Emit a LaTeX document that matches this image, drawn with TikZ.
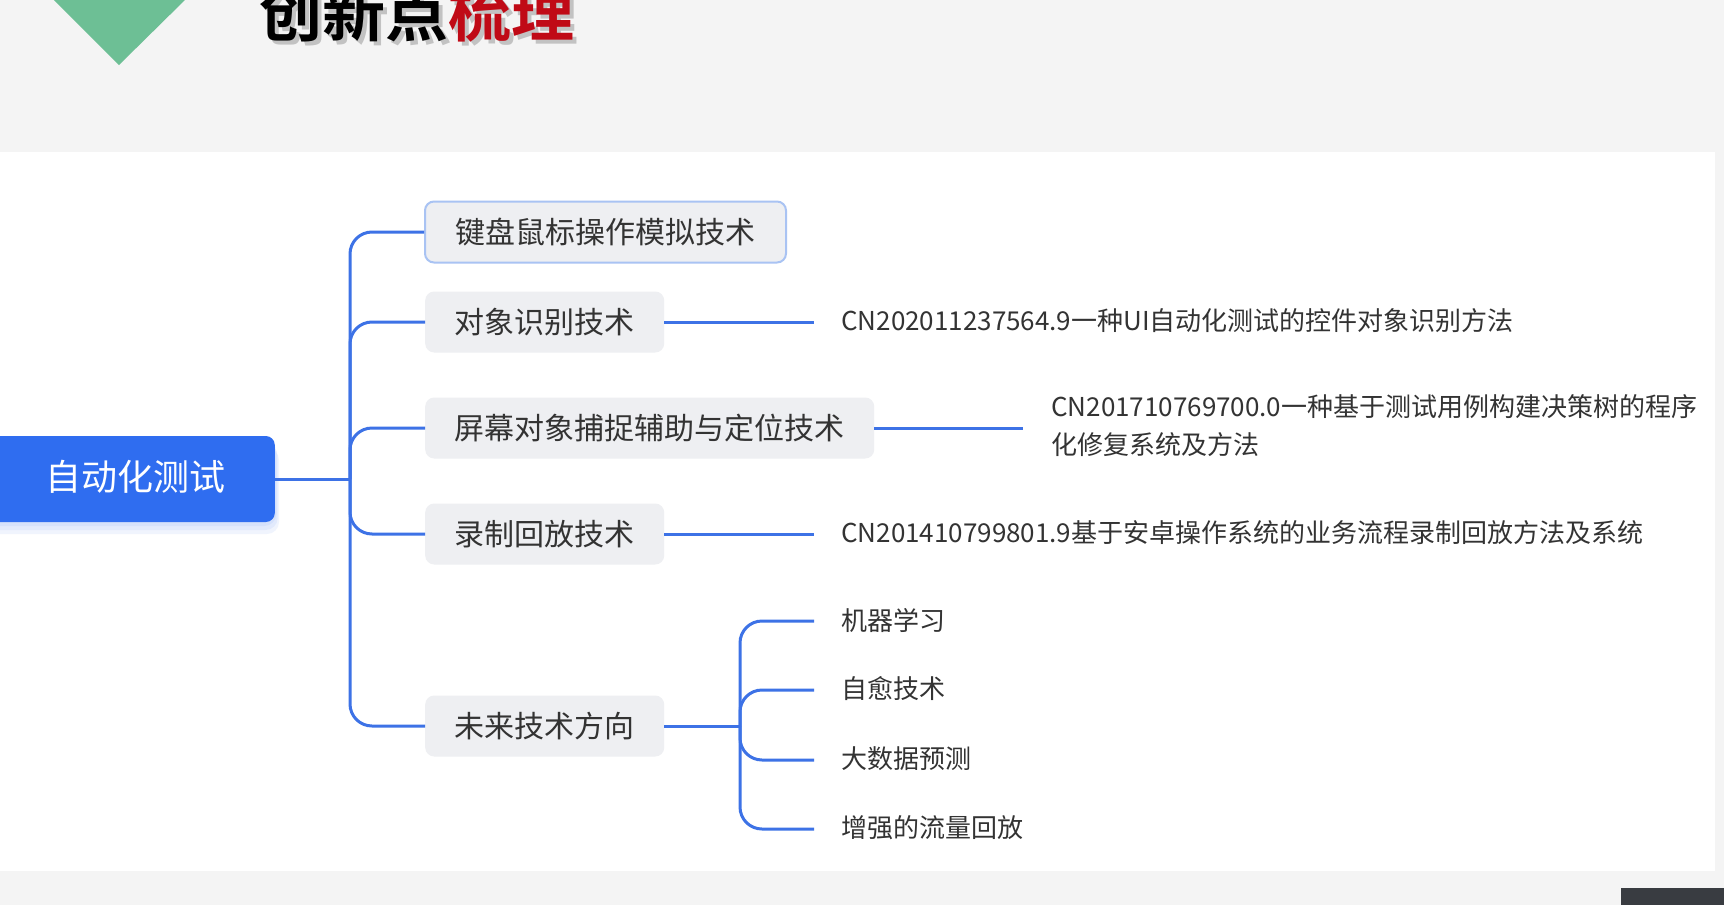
\documentclass[tikz,border=0pt]{standalone}
\usepackage{fontspec}
\setmainfont{Noto Sans CJK SC}[BoldFont={Noto Sans CJK SC Bold}]
\definecolor{bandgray}{HTML}{F4F4F4}
\definecolor{triGreen}{HTML}{6DBF95}
\definecolor{titleRed}{HTML}{C00A16}
\definecolor{lineBlue}{HTML}{3D72E6}
\definecolor{rootBlue}{HTML}{2F6DF0}
\definecolor{boxFill}{HTML}{EEEFF2}
\definecolor{boxEdge}{HTML}{A9C3F3}
\definecolor{txt}{HTML}{333333}
\definecolor{darkbar}{HTML}{393C41}
\tikzset{
  conn/.style={draw=lineBlue, line width=3pt, rounded corners=22pt},
  branchbox/.style={fill=boxFill, rounded corners=9pt, minimum height=61pt, text=txt,
    font=\fontsize{30}{36}\selectfont, inner sep=0pt, anchor=west},
  leaftext/.style={text=txt, font=\fontsize{26}{38}\selectfont, inner sep=0pt, anchor=west, align=left},
}
\begin{document}
\begin{tikzpicture}[x=1pt,y=-1pt]
\useasboundingbox (0,0) rectangle (1724,905);
\clip (0,0) rectangle (1724,905);
% backgrounds
\fill[bandgray] (0,0) rectangle (1724,905);
\fill[white] (0,152) rectangle (1715,871);
% header
\fill[triGreen] (52,-2) -- (187,-2) -- (119,65) -- cycle;
\node[anchor=west, inner sep=0pt, font=\fontsize{63}{70}\bfseries, text=black!40, opacity=0.55] at (263,16) {创新点\textcolor{black!40}{梳理}};
\node (title) [anchor=west, inner sep=0pt, font=\fontsize{63}{70}\bfseries, text=black] at (259,12) {创新点\textcolor{titleRed}{梳理}};
% root shadow
\foreach \s in {4,8,12}{
  \fill[rootBlue, opacity=0.07, rounded corners=12pt] (-20,{436+\s}) rectangle ({275+\s/3},{522+\s});
}
% root
\node (root) [fill=rootBlue, rounded corners=9pt, minimum width=285pt, minimum height=86pt, inner sep=0pt,
  anchor=east] at (275,479) {};
\node (roottxt) [text=white, font=\fontsize{36}{40}\selectfont, inner sep=0pt] at (135,477) {自动化测试};
% branches
\node (b1) [branchbox, draw=boxEdge, line width=2pt, minimum width=361pt] at (424,232) {键盘鼠标操作模拟技术};
\node (b2) [branchbox, minimum width=239pt] at (425,322) {对象识别技术};
\node (b3) [branchbox, minimum width=449pt] at (425,428) {屏幕对象捕捉辅助与定位技术};
\node (b4) [branchbox, minimum width=239pt] at (425,534) {录制回放技术};
\node (b5) [branchbox, minimum width=239pt] at (425,726) {未来技术方向};
\coordinate (trunk) at (350,479);
\draw[conn] (root.east) -- (trunk);
\draw[conn] (trunk) |- (b1.west);
\draw[conn] (trunk) |- (b2.west);
\draw[conn] (trunk) |- (b3.west);
\draw[conn] (trunk) |- (b4.west);
\draw[conn] (trunk) |- (b5.west);
% leaves
\node (l2) [leaftext] at (841,321) {CN202011237564.9一种UI自动化测试的控件对象识别方法};
\node (l3) [leaftext] at (1051,426) {CN201710769700.0一种基于测试用例构建决策树的程序\\化修复系统及方法};
\node (l4) [leaftext] at (841,533) {CN201410799801.9基于安卓操作系统的业务流程录制回放方法及系统};
\coordinate (e2) at (814,322);
\coordinate (e3) at (1023,428);
\coordinate (e4) at (814,534);
\draw[conn] (b2.east) -- (e2);
\draw[conn] (b3.east) -- (e3);
\draw[conn] (b4.east) -- (e4);
% future
\node (f1) [leaftext] at (841,620) {机器学习};
\node (f2) [leaftext] at (841,689) {自愈技术};
\node (f3) [leaftext] at (841,759) {大数据预测};
\node (f4) [leaftext] at (841,828) {增强的流量回放};
\coordinate (ft) at (740,726);
\coordinate (g1) at (814,621);
\coordinate (g2) at (814,690);
\coordinate (g3) at (814,760);
\coordinate (g4) at (814,829);
\draw[conn] (b5.east) -- (ft);
\draw[conn] (ft) |- (g1);
\draw[conn] (ft) |- (g2);
\draw[conn] (ft) |- (g3);
\draw[conn] (ft) |- (g4);
% bottom-right bar
\fill[darkbar] (1621,888) rectangle (1724,905);
\end{tikzpicture}
\end{document}
